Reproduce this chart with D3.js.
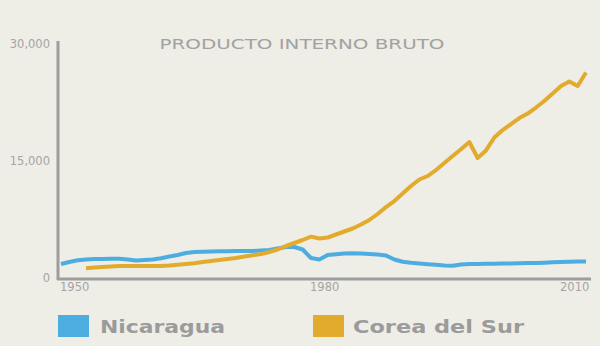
<!DOCTYPE html>
<html>
<head>
<meta charset="utf-8">
<script src="https://d3js.org/d3.v7.min.js"></script>
<style>
  body { margin: 0; background: #eeede6; }
  svg { display: block; }
</style>
</head>
<body>
<svg width="600" height="346"></svg>
<script>
var width = 600;
var height = 346;

// PIB per capita
var chartTitle = "PRODUCTO INTERNO BRUTO";
var seriesNames = ["Nicaragua", "Corea del Sur"];
var seriesColors = ["#4dade0", "#e2ab2e"];
var yTicks = [0, 15000, 30000];
var xTicks = [1950, 1980, 2010];

var nicaraguaStart = 1950;
var nicaraguaValues = [
	1795, 2051, 2269, 2372, 2436, 2436, 2461, 2474, 2372, 2244,
	2308, 2372, 2526, 2756, 2949, 3205, 3333, 3372, 3397, 3423,
	3436, 3449, 3461, 3461, 3526, 3590, 3782, 3974, 3974, 3654,
	2564, 2372, 2949, 3038, 3141, 3179, 3141, 3077, 3013, 2885,
	2372, 2077, 1949, 1859, 1769, 1692, 1603, 1564, 1731, 1795,
	1795, 1820, 1833, 1859, 1872, 1885, 1910, 1923, 1961, 2013,
	2051, 2077, 2102, 2115
];

var coreaStart = 1953;
var coreaValues = [
	1244, 1346, 1410, 1474, 1538, 1538, 1538, 1538, 1538, 1538,
	1603, 1705, 1795, 1897, 2051, 2179, 2308, 2436, 2564, 2756,
	2910, 3077, 3333, 3654, 4102, 4487, 4872, 5300, 5064, 5192,
	5577, 5961, 6346, 6859, 7436, 8205, 9102, 9871, 10833, 11794,
	12628, 13076, 13846, 14743, 15640, 16499, 17435, 15384, 16358, 18012,
	18974, 19743, 20512, 21089, 21858, 22691, 23653, 24614, 25191, 24614,
	26345
];

var toPoints = function(start, values) {
	return values.map(function(v, i) { return {year: start + i, value: v}; });
}

var series = [toPoints(nicaraguaStart, nicaraguaValues), toPoints(coreaStart, coreaValues)];

var svg = d3.select("svg");
var gray = "#9d9d9d";

var x = d3.scaleLinear().domain([1950, 2013]).range([61, 586]);
var y = d3.scaleLinear().domain([0, 30000]).range([278, 44]);

svg.append("rect")
	.attr("width", width)
	.attr("height", height)
	.attr("fill", "#eeede6");

// titulo
svg.append("text")
	.attr("x", 302)
	.attr("y", 49)
	.attr("text-anchor", "middle")
	.attr("font-family", "DejaVu Sans, Verdana, sans-serif")
	.attr("font-size", 14)
	.attr("textLength", 285)
	.attr("lengthAdjust", "spacingAndGlyphs")
	.attr("fill", "#a2a2a2")
	.text(chartTitle);

// ejes
svg.append("line")
	.attr("x1", 58).attr("x2", 58)
	.attr("y1", 41).attr("y2", 280)
	.attr("stroke", gray)
	.attr("stroke-width", 3);

svg.append("line")
	.attr("x1", 57).attr("x2", 591)
	.attr("y1", 279).attr("y2", 279)
	.attr("stroke", gray)
	.attr("stroke-width", 3);

svg.selectAll(".ytick")
	.data(yTicks)
	.enter()
	.append("text")
	.attr("class", "ytick")
	.attr("x", 50)
	.attr("y", function(d) { return y(d) + 4; })
	.attr("text-anchor", "end")
	.attr("font-family", "DejaVu Sans, Verdana, sans-serif")
	.attr("font-size", 11.5)
	.attr("fill", "#a5a5a5")
	.text(d3.format(","));

svg.selectAll(".xtick")
	.data(xTicks)
	.enter()
	.append("text")
	.attr("class", "xtick")
	.attr("x", function(d) { return x(d) - 1; })
	.attr("y", 291)
	.attr("text-anchor", "start")
	.attr("font-family", "DejaVu Sans, Verdana, sans-serif")
	.attr("font-size", 11.5)
	.attr("fill", "#a5a5a5")
	.text(function(d) { return d; });

// lineas
var line = d3.line()
	.x(function(d) { return x(d.year); })
	.y(function(d) { return y(d.value); });

svg.selectAll(".serie")
	.data(series)
	.enter()
	.append("path")
	.attr("class", "serie")
	.attr("d", line)
	.attr("fill", "none")
	.attr("stroke", function(d, i) { return seriesColors[i]; })
	.attr("stroke-width", 4)
	.attr("stroke-linejoin", "round")
	.attr("stroke-linecap", "butt");

// leyenda
var legendX = [58, 313];
var legendTextLength = [125, 171];

var legend = svg.selectAll(".legend")
	.data(seriesNames)
	.enter()
	.append("g")
	.attr("class", "legend")
	.attr("transform", function(d, i) { return "translate(" + legendX[i] + ",315)"; });

legend.append("rect")
	.attr("width", 31)
	.attr("height", 22)
	.attr("fill", function(d, i) { return seriesColors[i]; });

legend.append("text")
	.attr("x", function(d, i) { return i == 0 ? 42 : 40; })
	.attr("y", 18)
	.attr("font-family", "DejaVu Sans, Verdana, sans-serif")
	.attr("font-weight", "bold")
	.attr("font-size", 18)
	.attr("textLength", function(d, i) { return legendTextLength[i]; })
	.attr("lengthAdjust", "spacingAndGlyphs")
	.attr("fill", "#9b9b9b")
	.text(function(d) { return d; });
</script>
</body>
</html>
